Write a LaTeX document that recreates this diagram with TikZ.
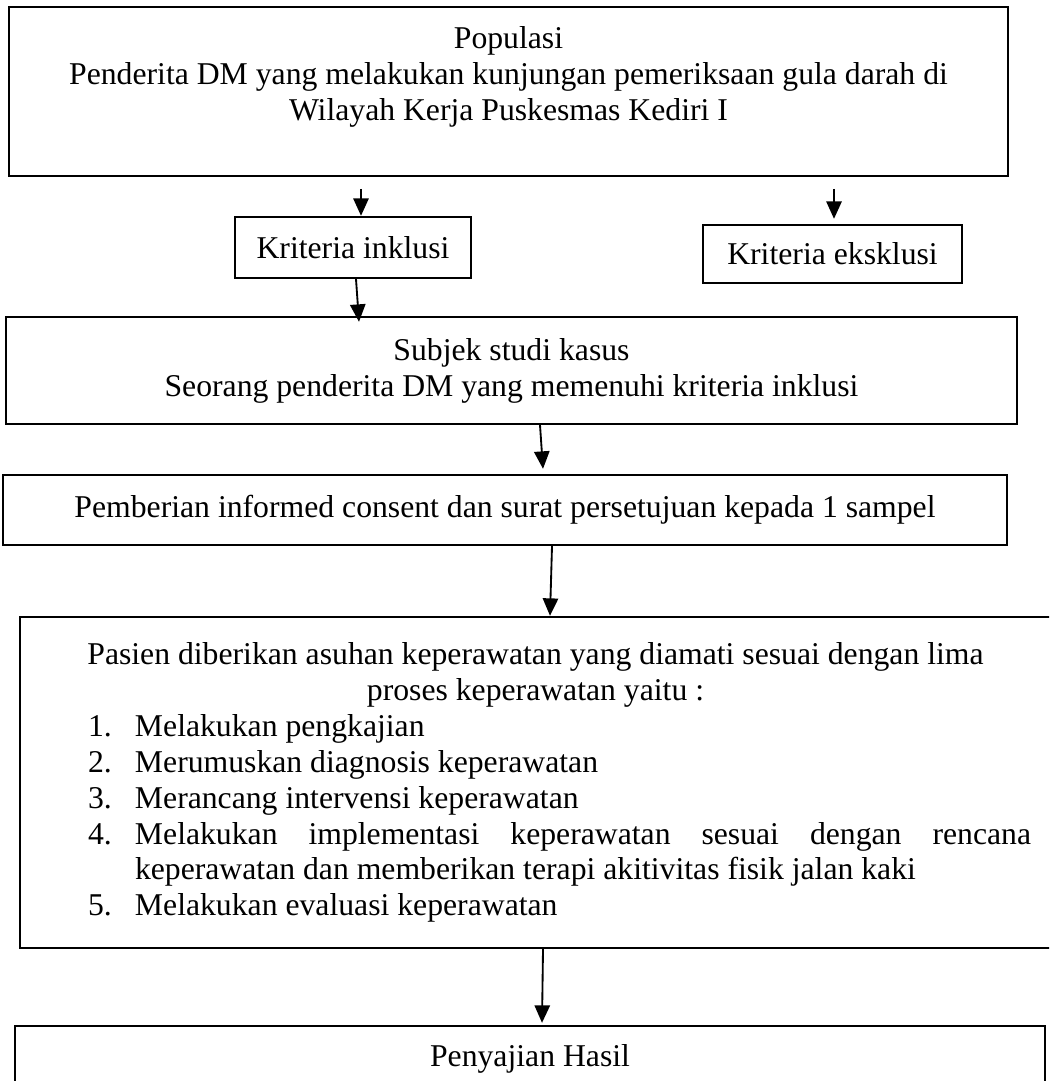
\documentclass[tikz,border=0pt]{standalone}
\usepackage{fontspec}
\setmainfont{Liberation Serif}
\usetikzlibrary{arrows.meta,calc}

\newdimen\pxu
\pxu=0.3785pt
\newcommand\stepline[2]{\par\noindent\hangindent=95\pxu\hangafter=1%
  \hspace*{48\pxu}\makebox[47\pxu][l]{#1}#2}

\begin{document}
\begin{tikzpicture}[
    x=0.3785pt, y=-0.3785pt,
    every node/.style={font=\fontsize{12}{13.6}\selectfont},
    box/.style={draw, line width=0.9pt, inner sep=0pt, align=center},
    arr/.style={-{Triangle[length=6.6pt,width=5.8pt]}, line width=0.7pt},
]
\useasboundingbox (0,0) rectangle (1049,1081);
\clip (0,0) rectangle (1049,1081);

% ============================================================
% Boxes
% ============================================================
\node[box, minimum width=999\pxu, minimum height=169\pxu] (pop) at (508.5,91.5)
  {Populasi\\ Penderita DM yang melakukan kunjungan pemeriksaan gula darah di\\
   Wilayah Kerja Puskesmas Kediri I\\ \mbox{}};
\node[box, minimum width=236\pxu, minimum height=61\pxu] (inkl) at (353,247.5) {Kriteria inklusi};
\node[box, minimum width=259\pxu, minimum height=58\pxu] (eksk) at (832.5,254) {Kriteria eksklusi};
\node[box, minimum width=1011\pxu, minimum height=107\pxu] (subj) at (511.5,370.5)
  {Subjek studi kasus\\ Seorang penderita DM yang memenuhi kriteria inklusi};
\node[box, minimum width=1004\pxu, minimum height=70\pxu] (inf) at (505,510)
  {Pemberian informed consent dan surat persetujuan kepada 1 sampel};

% process box, runs past the right edge
\node[box, align=justify, text width=991\pxu, inner xsep=20\pxu,
      minimum height=331\pxu] (pas) at (535.5,782.5)
  {{\centering Pasien diberikan asuhan keperawatan yang diamati sesuai dengan lima\\
    proses keperawatan yaitu :\par}
   \stepline{1.}{Melakukan pengkajian}
   \stepline{2.}{Merumuskan diagnosis keperawatan}
   \stepline{3.}{Merancang intervensi keperawatan}
   \stepline{4.}{Melakukan implementasi keperawatan sesuai dengan rencana\linebreak
     keperawatan dan memberikan terapi akitivitas fisik jalan kaki}
   \stepline{5.}{Melakukan evaluasi keperawatan}\par};

\node[box, minimum width=1030\pxu, minimum height=66\pxu] (hasil) at (530,1059) {Penyajian Hasil};

% ============================================================
% Arrows
% ============================================================
\coordinate (p1) at (361,189);
\coordinate (p2) at (834,189);
\draw[arr] (p1) -- (p1 |- inkl.north);
\draw[arr] (p2) -- ($(p2 |- eksk.north)+(0,-5)$);
\draw[arr] (356,0 |- inkl.south) -- ($(359,0 |- subj.north)+(0,6)$);
\draw[arr] (540,0 |- subj.south) -- ($(543,0 |- inf.north)+(0,-5)$);
\draw[arr] (552,0 |- inf.south) -- (550,0 |- pas.north);
\draw[arr] (543,0 |- pas.south) -- ($(542,0 |- hasil.north)+(0,-2)$);

\end{tikzpicture}
\end{document}
